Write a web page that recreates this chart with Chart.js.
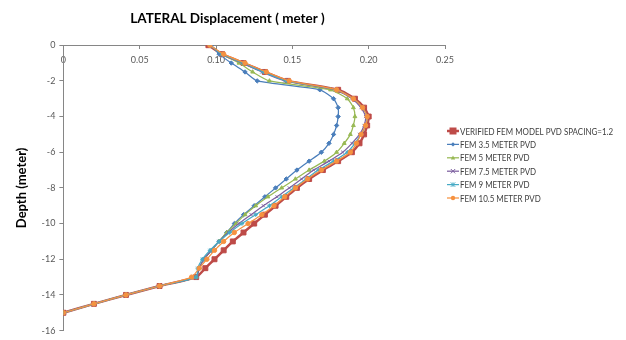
<!DOCTYPE html>
<html>
<head>
<meta charset="utf-8">
<script src="https://cdn.jsdelivr.net/npm/chart.js@4.4.1/dist/chart.umd.min.js"></script>
<style>
  html, body { margin: 0; padding: 0; background: #fff; }
  #wrap { width: 626px; height: 340px; position: relative; }
</style>
</head>
<body>
<div id="wrap"><canvas id="depthChart"></canvas></div>
<script>
/* DATA */
const depths = [0, -0.5, -1, -1.5, -2, -2.5, -3, -3.5, -4, -4.5, -5, -5.5, -6, -6.5, -7, -7.5,
    -8, -8.5, -9, -9.5, -10, -10.5, -11, -11.5, -12, -12.5, -13, -13.5, -14, -14.5, -15];

const verified = [0.095, 0.104, 0.118, 0.132, 0.147, 0.180, 0.191, 0.197, 0.200, 0.199, 0.197, 0.194,
    0.189, 0.180, 0.170, 0.161, 0.153, 0.146, 0.139, 0.132, 0.125, 0.118, 0.111, 0.105, 0.099, 0.093,
    0.087, 0.063, 0.041, 0.020, 0];
const fem35 = [0.097, 0.102, 0.110, 0.119, 0.127, 0.168, 0.177, 0.180, 0.180, 0.179, 0.177, 0.174,
    0.169, 0.161, 0.153, 0.146, 0.139, 0.132, 0.125, 0.118, 0.112, 0.107, 0.102, 0.097, 0.092, 0.089,
    0.087, 0.063, 0.041, 0.020, 0];
const fem5 = [0.096, 0.104, 0.115, 0.124, 0.135, 0.175, 0.186, 0.190, 0.191, 0.190, 0.188, 0.184,
    0.179, 0.171, 0.161, 0.152, 0.143, 0.134, 0.126, 0.119, 0.113, 0.107, 0.102, 0.097, 0.092, 0.089,
    0.087, 0.063, 0.041, 0.020, 0];
const fem75 = [0.096, 0.104, 0.117, 0.130, 0.145, 0.178, 0.189, 0.195, 0.198, 0.197, 0.194, 0.189,
    0.183, 0.174, 0.164, 0.156, 0.148, 0.140, 0.131, 0.123, 0.115, 0.108, 0.102, 0.097, 0.092, 0.089,
    0.087, 0.063, 0.041, 0.020, 0];
const fem9 = [0.096, 0.104, 0.118, 0.131, 0.146, 0.179, 0.190, 0.196, 0.199, 0.198, 0.195, 0.191,
    0.186, 0.177, 0.167, 0.159, 0.151, 0.143, 0.135, 0.126, 0.117, 0.109, 0.102, 0.096, 0.091, 0.088,
    0.087, 0.063, 0.041, 0.020, 0];
const fem105 = [0.096, 0.105, 0.119, 0.133, 0.148, 0.179, 0.190, 0.196, 0.199, 0.198, 0.195, 0.192,
    0.188, 0.179, 0.169, 0.160, 0.152, 0.145, 0.138, 0.130, 0.121, 0.112, 0.105, 0.099, 0.094, 0.089,
    0.084, 0.063, 0.041, 0.020, 0];

const seriesLabels = ['VERIFIED FEM MODEL PVD SPACING=1.2', 'FEM 3.5 METER PVD', 'FEM 5 METER PVD',
    'FEM 7.5 METER PVD', 'FEM 9 METER PVD', 'FEM 10.5 METER PVD'];
const xTicks = [0, 0.05, 0.1, 0.15, 0.2, 0.25];
const yTicks = [0, -2, -4, -6, -8, -10, -12, -14, -16];

const FONT = 'Lato, "Open Sans", sans-serif';

function points(values) {
    return values.map((v, i) => ({ x: v, y: depths[i] }));
}

function series(label, values, color, style, radius, width, order) {
    return {
        label: label,
        data: points(values),
        showLine: true,
        borderColor: color,
        backgroundColor: color,
        pointBorderColor: color,
        pointBackgroundColor: color,
        borderWidth: width,
        pointStyle: style,
        pointRadius: radius,
        pointBorderWidth: 1,
        tension: 0.2,
        order: order,
    };
}

/* LEGEND (line + marker, like the spreadsheet one) */
function drawMarker(ctx, style, r, x, y, color) {
    ctx.fillStyle = color;
    ctx.strokeStyle = color;
    ctx.lineWidth = 1;
    ctx.beginPath();
    if (style === 'rect') {
        ctx.rect(x - r, y - r, r * 2, r * 2);
        ctx.fill();
    } else if (style === 'rectRot') {
        ctx.moveTo(x, y - r); ctx.lineTo(x + r, y); ctx.lineTo(x, y + r); ctx.lineTo(x - r, y);
        ctx.closePath(); ctx.fill();
    } else if (style === 'triangle') {
        ctx.moveTo(x, y - r); ctx.lineTo(x + r, y + r * 0.8); ctx.lineTo(x - r, y + r * 0.8);
        ctx.closePath(); ctx.fill();
    } else if (style === 'crossRot') {
        ctx.moveTo(x - r, y - r); ctx.lineTo(x + r, y + r);
        ctx.moveTo(x + r, y - r); ctx.lineTo(x - r, y + r);
        ctx.stroke();
    } else if (style === 'star') {
        ctx.moveTo(x - r, y - r); ctx.lineTo(x + r, y + r);
        ctx.moveTo(x + r, y - r); ctx.lineTo(x - r, y + r);
        ctx.moveTo(x, y - r); ctx.lineTo(x, y + r);
        ctx.stroke();
    } else {
        ctx.arc(x, y, r, 0, Math.PI * 2);
        ctx.fill();
    }
}

const sideLegend = {
    id: 'sideLegend',
    afterDraw(chart) {
        const ctx = chart.ctx;
        ctx.save();
        ctx.font = '9.5px ' + FONT;
        ctx.textBaseline = 'middle';
        // squeeze text horizontally so the longest label fits like the narrow original font
        const longest = ctx.measureText(seriesLabels[0]).width;
        const squeeze = Math.min(1, 153 / longest);
        chart.data.datasets.forEach((ds, i) => {
            const y = 131 + i * 13.4;
            ctx.strokeStyle = ds.borderColor;
            ctx.lineWidth = ds.borderWidth;
            ctx.beginPath();
            ctx.moveTo(447, y);
            ctx.lineTo(459, y);
            ctx.stroke();
            drawMarker(ctx, ds.pointStyle, ds.pointRadius, 453, y, ds.borderColor);
            ctx.save();
            ctx.translate(460, y + 0.5);
            ctx.scale(squeeze, 1);
            ctx.fillStyle = '#404040';
            ctx.fillText(ds.label, 0, 0);
            ctx.restore();
        });
        ctx.restore();
    }
};

const ctx = document.getElementById('depthChart').getContext('2d');
const depthChart = new Chart(ctx, {
    type: 'scatter',
    data: {
        datasets: [
            series(seriesLabels[0], verified, '#BE4B48', 'rect', 3.5, 2.5, 6),
            series(seriesLabels[1], fem35, '#4A7EBB', 'rectRot', 2.2, 1.25, 5),
            series(seriesLabels[2], fem5, '#98B954', 'triangle', 2.2, 1.25, 4),
            series(seriesLabels[3], fem75, '#7D60A0', 'crossRot', 2.2, 1.25, 3),
            series(seriesLabels[4], fem9, '#46AAC5', 'star', 2.2, 1.25, 2),
            series(seriesLabels[5], fem105, '#F69240', 'circle', 2.2, 1.25, 1),
        ],
    },
    options: {
        responsive: true,
        maintainAspectRatio: false,
        animation: false,
        layout: {
            padding: { left: 10, right: 181, top: 0, bottom: 5 },
        },
        scales: {
            x: {
                type: 'linear',
                position: { y: 0 },
                min: 0,
                max: 0.25,
                afterBuildTicks: (scale) => { scale.ticks = xTicks.map(v => ({ value: v })); },
                ticks: {
                    color: '#595959',
                    font: { family: FONT, size: 9 },
                    padding: 6,
                    maxRotation: 0,
                },
                grid: { display: true, drawOnChartArea: false, drawTicks: true, tickLength: 3, color: '#868686' },
                border: { display: true, color: '#868686', width: 1 },
            },
            y: {
                type: 'linear',
                position: 'left',
                min: -16,
                max: 0,
                afterBuildTicks: (scale) => { scale.ticks = yTicks.map(v => ({ value: v })); },
                ticks: {
                    color: '#595959',
                    font: { family: FONT, size: 9 },
                    padding: 4,
                },
                grid: { display: true, drawOnChartArea: false, drawTicks: true, tickLength: 4, color: '#868686' },
                border: { display: true, color: '#868686', width: 1 },
                title: {
                    display: true,
                    text: 'Depth (meter)',
                    color: '#000',
                    font: { family: FONT, size: 13, weight: 'bold' },
                    padding: { top: 4, bottom: 8 },
                },
            },
        },
        plugins: {
            legend: { display: false },
            tooltip: { enabled: false },
            title: {
                display: true,
                text: 'LATERAL Displacement ( meter )',
                color: '#000',
                font: { family: FONT, size: 13.5, weight: 'bold' },
                padding: { top: 11, bottom: 18 },
            },
        },
    },
    plugins: [sideLegend],
});
</script>
</body>
</html>
